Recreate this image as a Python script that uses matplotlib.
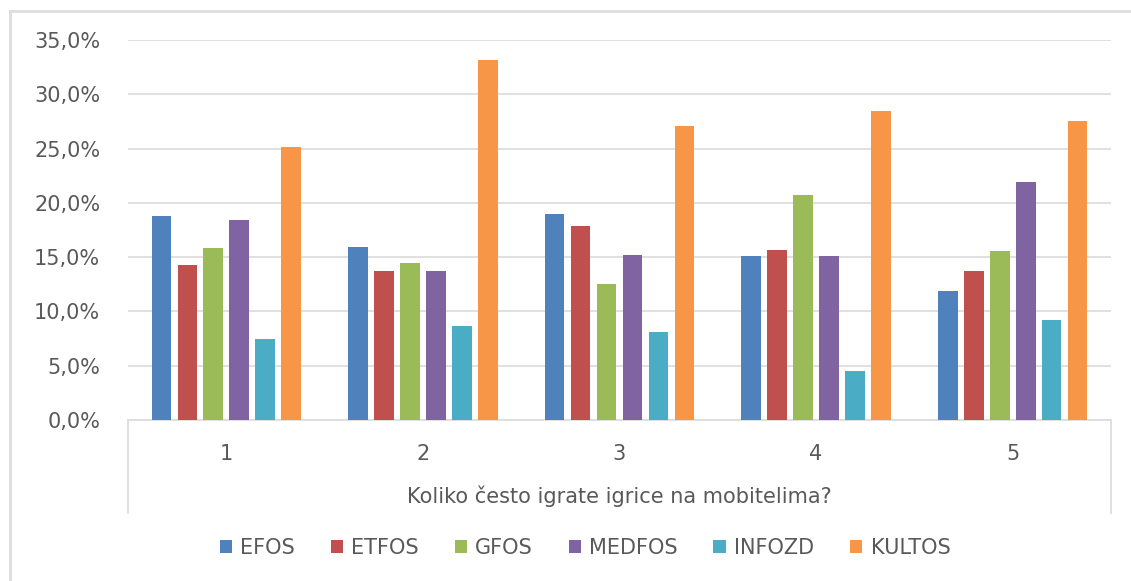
import numpy as np
import matplotlib
matplotlib.use("Agg")
import matplotlib.pyplot as plt
from matplotlib.lines import Line2D
from matplotlib.ticker import FuncFormatter, MultipleLocator

categories = ["1", "2", "3", "4", "5"]
series_names = ["EFOS", "ETFOS", "GFOS", "MEDFOS", "INFOZD", "KULTOS"]
efos = [18.8, 15.9, 19.0, 15.1, 11.9]
etfos = [14.3, 13.7, 17.9, 15.7, 13.7]
gfos = [15.8, 14.5, 12.5, 20.7, 15.6]
medfos = [18.4, 13.7, 15.2, 15.1, 21.9]
infozd = [7.5, 8.7, 8.1, 4.5, 9.2]
kultos = [25.1, 33.2, 27.1, 28.5, 27.5]
colors = ["#4F81BD", "#C0504D", "#9BBB59", "#8064A2", "#4BACC6", "#F79646"]
axis_title = "Koliko često igrate igrice na mobitelima?"

text_col = "#595959"
grid_col = "#DDDDDD"
fs = 15

fig = plt.figure(figsize=(11.31, 5.81), dpi=100)
ax = fig.add_axes([128 / 1131, 1 - 420 / 581, (1111 - 128) / 1131, 380 / 581])

x = np.arange(len(categories))
pitch = 0.132
width = 0.1
all_series = [efos, etfos, gfos, medfos, infozd, kultos]
for i, (vals, name, c) in enumerate(zip(all_series, series_names, colors)):
    ax.bar(x + (i - 2.5) * pitch, np.array(vals) / 100, width, color=c,
           label=name, zorder=3)

ax.set_xlim(-0.5, len(categories) - 0.5)
ax.set_ylim(0, 0.35)
ax.yaxis.set_major_locator(MultipleLocator(0.05))
ax.yaxis.set_major_formatter(FuncFormatter(lambda v, p: f"{v * 100:.1f}%".replace(".", ",")))
ax.set_xticks(x)
ax.set_xticklabels(categories)
ax.grid(axis="y", color=grid_col, linewidth=1.3, zorder=0)
for s in ["left", "right", "top"]:
    ax.spines[s].set_visible(False)
ax.spines["bottom"].set_color(grid_col)
ax.spines["bottom"].set_linewidth(1.3)
ax.tick_params(axis="both", length=0, labelsize=fs, labelcolor=text_col)
ax.tick_params(axis="y", pad=20)
ax.tick_params(axis="x", pad=17)

# box around the category axis area
for xa in [0, 1]:
    ax.add_line(Line2D([xa, xa], [0, -93 / 380], transform=ax.transAxes,
                       color=grid_col, linewidth=1.3, clip_on=False))
ax.text(0.5, -76 / 380, axis_title, transform=ax.transAxes, ha="center",
        va="center", fontsize=fs, color=text_col)

# outer chart border
fig.add_artist(Line2D([10 / 1131, 10 / 1131], [0, 1 - 11 / 581], transform=fig.transFigure,
                      color=grid_col, linewidth=2))
fig.add_artist(Line2D([10 / 1131, 1], [1 - 11 / 581, 1 - 11 / 581], transform=fig.transFigure,
                      color=grid_col, linewidth=2))

leg = fig.legend(loc="center", bbox_to_anchor=(585 / 1131, 1 - 548 / 581), ncol=6,
                 frameon=False, fontsize=fs, handlelength=0.6, handleheight=0.6,
                 handletextpad=0.4, columnspacing=1.7)
for t in leg.get_texts():
    t.set_color(text_col)

fig.savefig("out.png", dpi=100)
